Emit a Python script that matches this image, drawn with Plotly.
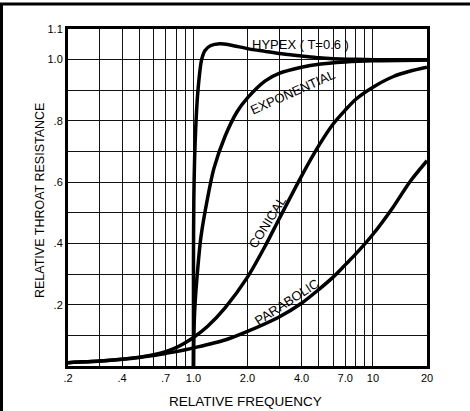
import numpy as np
import plotly.graph_objects as go

# ---- data ----
hypex_f = [1.0, 1.0, 1.005, 1.015, 1.03, 1.05, 1.08, 1.11, 1.16, 1.25, 1.4, 1.6, 2.0, 2.5, 3.0, 4.0, 5.0, 6.0, 8.0, 10, 20]
hypex_r = [0.0, 0.35, 0.55, 0.68, 0.78, 0.87, 0.95, 1.0, 1.03, 1.046, 1.052, 1.048, 1.036, 1.027, 1.02, 1.012, 1.006, 1.003, 1.001, 1.0, 1.0]

exp_f = [1.0, 1.005, 1.02, 1.05, 1.1, 1.2, 1.3, 1.5, 1.75, 2.0, 2.5, 3.0, 4.0, 5.0, 7.0, 10, 20]
exp_r = [0.0, 0.1, 0.2, 0.3, 0.42, 0.55, 0.645, 0.75, 0.83, 0.875, 0.93, 0.955, 0.975, 0.985, 0.992, 0.996, 0.999]

con_f = [0.2, 0.3, 0.4, 0.5, 0.6, 0.7, 0.8, 0.9, 1.0, 1.2, 1.5, 2.0, 2.5, 3.0, 4.0, 5.0, 6.0, 7.0, 8.0, 10, 13, 16, 20]
con_r = [0.011, 0.016, 0.022, 0.029, 0.037, 0.047, 0.06, 0.076, 0.093, 0.13, 0.19, 0.29, 0.39, 0.48, 0.62, 0.72, 0.79, 0.835, 0.87, 0.91, 0.945, 0.962, 0.975]

par_f = [0.2, 0.3, 0.4, 0.5, 0.6, 0.7, 0.8, 0.9, 1.0, 1.5, 2.0, 3.0, 4.0, 5.0, 6.0, 7.0, 8.0, 10, 13, 16, 20]
par_r = [0.011, 0.016, 0.022, 0.028, 0.034, 0.041, 0.047, 0.053, 0.059, 0.085, 0.113, 0.16, 0.205, 0.25, 0.29, 0.33, 0.365, 0.43, 0.52, 0.6, 0.67]

x_grid = [0.2, 0.3, 0.4, 0.5, 0.6, 0.7, 0.8, 0.9, 1.0, 2, 3, 4, 5, 6, 7, 8, 9, 10, 20]
x_text = [".2", "", ".4", "", "", ".7", "", "", "1.0", "2.0", "", "4.0", "", "", "7.0", "", "", "10", "20"]
y_grid = [0.0, 0.1, 0.2, 0.3, 0.4, 0.5, 0.6, 0.7, 0.8, 0.9, 1.0, 1.1]
y_text = ["", "", ".2", "", ".4", "", ".6", "", ".8", "", "1.0", "1.1"]

FONT = "Liberation Sans"
W, H = 470, 411
L, R, T, B = 68, 43, 29, 45
PW, PH = W - L - R, H - T - B
XLO, XHI = np.log10(0.2), np.log10(20)
YLO, YHI = 0.0, 1.1

def paper_x(x):
    return (x - L) / PW

def paper_y(y):
    return (H - B - y) / PH

def data_x(x):  # pixel -> log10 data coordinate (for label placement)
    return XLO + (x - L) / PW * (XHI - XLO)

def data_y(y):
    return YLO + (H - B - y) / PH * (YHI - YLO)

fig = go.Figure()
line = dict(color="black", width=3.5, shape="spline", smoothing=0.8)
for f, r in [(con_f, con_r), (par_f, par_r), (exp_f, exp_r), (hypex_f, hypex_r)]:
    fig.add_trace(go.Scatter(x=f, y=r, mode="lines", line=line, showlegend=False, hoverinfo="skip"))

ann_font = dict(family=FONT, size=13, color="black")
labels = [
    ("HYPEX ( T=0.6 )", 300, 44, 0),
    ("EXPONENTIAL", 292, 92, -24),
    ("CONICAL", 267, 222, -58),
    ("PARABOLIC", 286, 302, -33),
]
for text, lx, ly, ang in labels:
    fig.add_annotation(x=data_x(lx), y=data_y(ly), text=text, showarrow=False,
                       xanchor="center", yanchor="middle",
                       font=ann_font, textangle=ang)

# axis titles
fig.add_annotation(xref="paper", yref="paper", x=paper_x(245), y=paper_y(402),
                   xanchor="center", yanchor="middle",
                   text="RELATIVE FREQUENCY", showarrow=False,
                   font=dict(family=FONT, size=13.5, color="black"))
fig.add_annotation(xref="paper", yref="paper", x=paper_x(40), y=paper_y(201),
                   xanchor="center", yanchor="middle",
                   text="RELATIVE THROAT RESISTANCE", showarrow=False, textangle=-90,
                   font=dict(family=FONT, size=12.5, color="black"))

# outer frame of the figure
fig.add_shape(type="rect", xref="paper", yref="paper",
              x0=paper_x(1.5), x1=paper_x(480), y0=paper_y(430), y1=paper_y(4),
              line=dict(color="black", width=3))

fig.update_xaxes(type="log", range=[XLO, XHI], automargin=False,
                 tickvals=x_grid, ticktext=x_text,
                 showgrid=True, gridcolor="#111", gridwidth=1,
                 showline=True, linecolor="black", linewidth=3, mirror=True,
                 ticks="", tickfont=dict(family=FONT, size=11, color="black"),
                 zeroline=False)
fig.update_yaxes(range=[YLO, YHI], automargin=False,
                 tickvals=y_grid, ticktext=y_text,
                 showgrid=True, gridcolor="#111", gridwidth=1,
                 showline=True, linecolor="black", linewidth=3, mirror=True,
                 ticks="", tickfont=dict(family=FONT, size=11, color="black"),
                 zeroline=False)

fig.update_layout(width=W, height=H, margin=dict(l=L, r=R, t=T, b=B),
                  paper_bgcolor="white", plot_bgcolor="white")

fig.write_html("out.html", config={"displayModeBar": False},
               post_script="document.body.style.margin='0';")
